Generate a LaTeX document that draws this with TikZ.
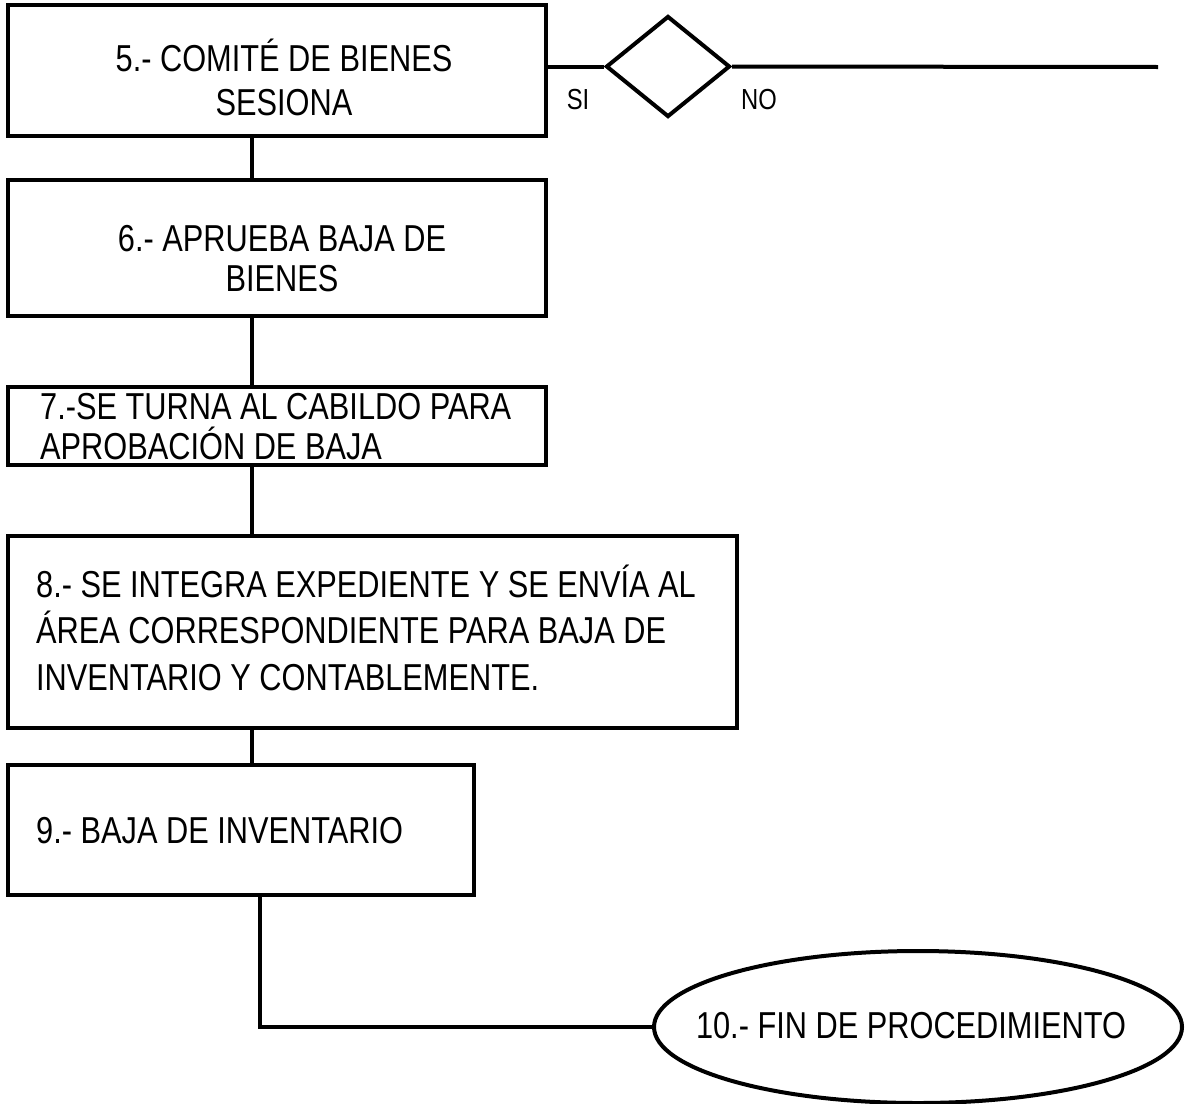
\documentclass[tikz,border=0pt]{standalone}
\usepackage{fontspec}
\setmainfont{Liberation Sans}[FakeStretch=0.82]
\usetikzlibrary{shapes.geometric}
\begin{document}
\begin{tikzpicture}[x=1pt,y=-1pt,
  box/.style={draw,line width=4pt,rectangle,inner sep=0pt},
  conn/.style={line width=4pt},
  txt/.style={inner sep=0pt,font=\fontsize{37.5}{40}\selectfont},
  small/.style={inner sep=0pt,font=\fontsize{29}{30}\selectfont},
  decision/.style={draw,diamond,line width=4pt,inner sep=0pt,minimum width=124pt,minimum height=101pt},
  terminal/.style={draw,ellipse,line width=4pt,inner sep=0pt,minimum width=528pt,minimum height=152pt}]
\useasboundingbox (0,0) rectangle (1185,1103);
\fill[white] (0,0) rectangle (1185,1103);
% boxes
\node[box,minimum width=538pt,minimum height=131pt] (b5) at (277,70.5) {};
\node[box,minimum width=538pt,minimum height=136pt] (b6) at (277,248) {};
\node[box,minimum width=538pt,minimum height=78pt] (b7) at (277,426) {};
\node[box,minimum width=729pt,minimum height=192pt] (b8) at (372.5,632) {};
\node[box,minimum width=466pt,minimum height=130pt] (b9) at (241,830) {};
\node[decision] (d) at (668,66.5) {};
\node[terminal] (e) at (918,1027) {};
% texts
\node[txt,align=center,anchor=base] (t5) at (284,115) {5.- COMITÉ DE BIENES\\[4pt]SESIONA};
\node[txt,align=center,anchor=base] (t6) at (282,291) {6.- APRUEBA BAJA DE\\BIENES};
\node[txt,align=left,anchor=base west] (t7) at (40,459) {7.-SE TURNA AL CABILDO PARA\\APROBACIÓN DE BAJA};
\node[txt,align=left,anchor=base west] (t8) at (36,690) {8.- SE INTEGRA EXPEDIENTE Y SE ENVÍA AL\\[6pt]ÁREA CORRESPONDIENTE PARA BAJA DE\\[7pt]INVENTARIO Y CONTABLEMENTE.};
\node[txt,anchor=base west] (t9) at (36,843) {9.- BAJA DE INVENTARIO};
\node[txt,anchor=base] (t10) at (911,1038) {10.- FIN DE PROCEDIMIENTO};
\node[small,anchor=base] (si) at (578,109) {SI};
\node[small,anchor=base] (no) at (759,109) {NO};
% connectors
\coordinate (spine) at (252,0);
\coordinate (spineb) at (260,0);
\coordinate (noend) at (1158,67);
\draw[conn] (d.west -| b5.east) -- (d.west);
\draw[conn] (d.east) -- (noend);
\draw[conn] (b5.south -| spine) -- (b6.north -| spine);
\draw[conn] (b6.south -| spine) -- (b7.north -| spine);
\draw[conn] (b7.south -| spine) -- (b8.north -| spine);
\draw[conn] (b8.south -| spine) -- (b9.north -| spine);
\draw[conn] (b9.south -| spineb) |- (e.west);
\end{tikzpicture}
\end{document}
